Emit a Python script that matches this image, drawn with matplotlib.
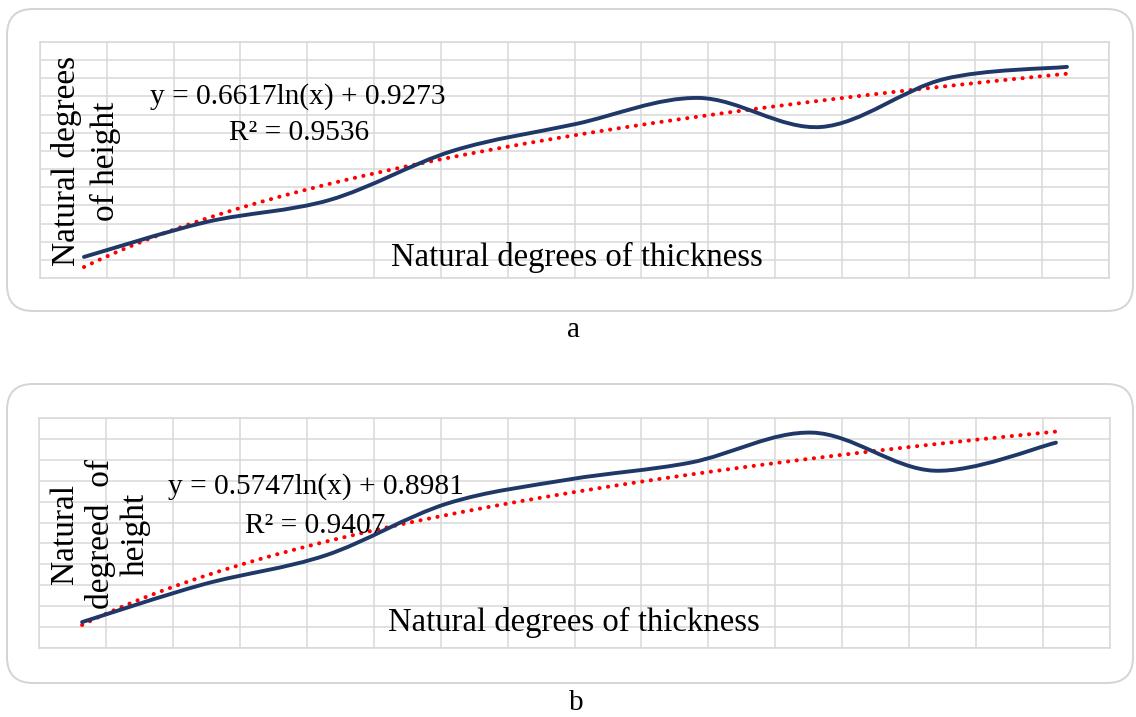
import numpy as np
import matplotlib
matplotlib.use("Agg")
import matplotlib.pyplot as plt
from matplotlib.path import Path
from matplotlib.patches import PathPatch, FancyBboxPatch

# data (x = natural degree of thickness)
thickness = [1, 1.5, 2, 2.5, 3, 3.5, 4, 4.5, 5]
height_a = [0.983, 1.176, 1.297, 1.567, 1.715, 1.859, 1.699, 1.963, 2.030]
height_b = [0.912, 1.093, 1.231, 1.479, 1.594, 1.675, 1.818, 1.636, 1.770]

# printed log trendlines: y = slope*ln(x) + intercept
trend_a = (0.6617, 0.9273)
trend_b = (0.5747, 0.8981)
r2_a = "0.9536"
r2_b = "0.9407"

NAVY = "#1f3868"
GRID = "#d9d9d9"
FONT = "Liberation Serif"


def smooth_path(x, y):
    # Excel-like smoothed line: cubic Bezier through every point
    pts = np.column_stack([x, y]).astype(float)
    n = len(pts)
    verts = [pts[0]]
    codes = [Path.MOVETO]
    for i in range(n - 1):
        p0 = pts[max(i - 1, 0)]
        p1 = pts[i]
        p2 = pts[i + 1]
        p3 = pts[min(i + 2, n - 1)]
        verts += [p1 + (p2 - p0) / 6, p2 - (p3 - p1) / 6, p2]
        codes += [Path.CURVE4] * 3
    return Path(verts, codes)


def draw_panel(ax, x, y, trend, r2, xlim, ylim, nrows, ylabel, ylab_pos, ylab_ls,
               eq_pos, r2_pos, xlab_pos):
    ax.set_xlim(xlim)
    ax.set_ylim(ylim)
    ax.set_xticks(np.linspace(xlim[0], xlim[1], 17))
    ax.set_yticks(np.linspace(ylim[0], ylim[1], nrows + 1))
    ax.tick_params(length=0, labelbottom=False, labelleft=False)
    ax.grid(True, color=GRID, lw=1.1)
    ax.set_axisbelow(True)
    for s in ax.spines.values():
        s.set_color(GRID)
        s.set_linewidth(1.1)

    xt = np.linspace(min(x), max(x), 200)
    ax.plot(xt, trend[0] * np.log(xt) + trend[1], color="red", lw=2.9,
            linestyle=(0, (0.05, 2.1)), dash_capstyle="round", zorder=3)
    ax.add_patch(PathPatch(smooth_path(x, y), facecolor="none", edgecolor=NAVY,
                           lw=2.8, capstyle="round", zorder=4))

    ax.text(*eq_pos, "y = %.4fln(x) + %.4f" % trend, transform=ax.transAxes,
            ha="center", va="center", fontsize=21.2, family=FONT, zorder=5)
    ax.text(*r2_pos, "R² = " + r2, transform=ax.transAxes,
            ha="center", va="center", fontsize=21.2, family=FONT, zorder=5)
    ax.text(*xlab_pos, "Natural degrees of thickness", transform=ax.transAxes,
            ha="center", va="center", fontsize=23.6, family=FONT, zorder=5)
    ax.text(*ylab_pos, ylabel, transform=ax.transAxes, rotation=90,
            ha="center", va="center", multialignment="center", linespacing=ylab_ls,
            fontsize=24, family=FONT, zorder=5)


fig = plt.figure(figsize=(11.36, 7.17), dpi=100)
W, H = 1136, 717

# rounded frames around the panels (inches)
for top, bottom in [(9, 311), (384, 683)]:
    box = FancyBboxPatch((7 / 100, (H - bottom) / 100), 11.26, (bottom - top) / 100,
                         boxstyle="round,pad=0,rounding_size=0.26",
                         transform=fig.dpi_scale_trans, facecolor="none",
                         edgecolor="#d4d4d4", lw=1.4, zorder=-1)
    fig.patches.append(box)

ax_a = fig.add_axes([40 / W, 1 - 278 / H, 1069 / W, 236 / H])
draw_panel(ax_a, thickness, height_a, trend_a, r2_a,
           (0.821, 5.171), (0.867, 2.167), 13,
           "Natural degrees\nof height", (0.043, 0.496), 1.3,
           (0.241, 0.767), (0.242, 0.614), (0.502, 0.089))

ax_b = fig.add_axes([39 / W, 1 - 648 / H, 1071 / W, 230 / H])
draw_panel(ax_b, thickness, height_b, trend_b, r2_b,
           (0.823, 5.222), (0.788, 1.888), 11,
           "Natural\ndegreed  of\nheight", (0.057, 0.496), 1.2,
           (0.259, 0.704), (0.258, 0.530), (0.4996, 0.109))

fig.text(574 / W, 1 - 330 / H, "a", ha="center", va="center", fontsize=21, family=FONT)
fig.text(576 / W, 1 - 703 / H, "b", ha="center", va="center", fontsize=21, family=FONT)

fig.savefig("out.png", dpi=100)
